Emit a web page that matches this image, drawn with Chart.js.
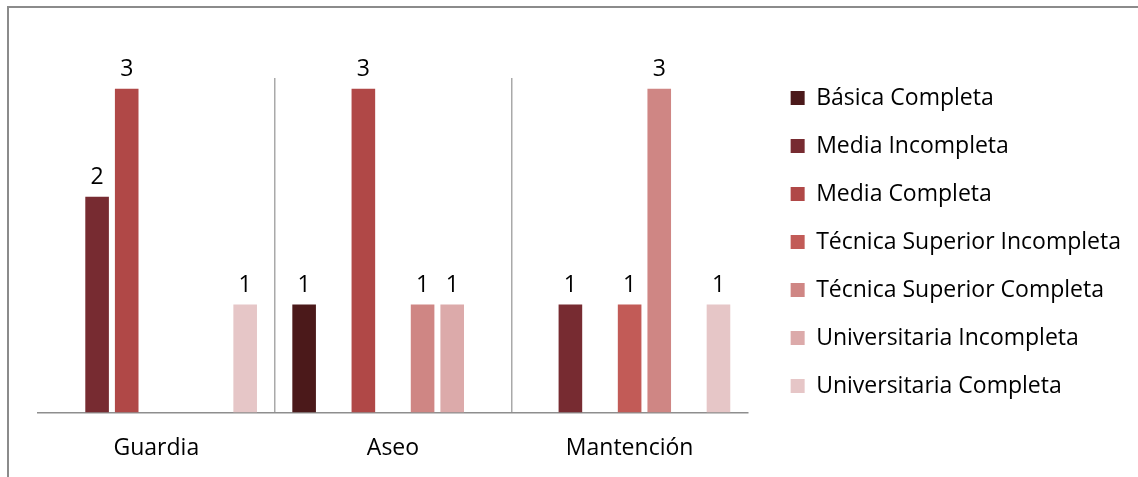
<!DOCTYPE html>
<html>
<head>
<meta charset="utf-8">
<script src="https://cdn.jsdelivr.net/npm/chart.js@4/dist/chart.umd.min.js"></script>
<style>
  html, body { margin: 0; padding: 0; background: #ffffff; overflow: hidden; }
  #wrap { position: relative; width: 1138px; height: 477px; }
  #c { position: absolute; left: 0; top: 0; }
  #frame {
    position: absolute; left: 7px; top: 6px; width: 1300px; height: 700px;
    border-left: 2px solid #8b8b8b; border-top: 2px solid #8b8b8b;
    pointer-events: none; box-sizing: border-box;
  }
</style>
</head>
<body>
<div id="wrap">
  <canvas id="c" width="1138" height="477"></canvas>
  <div id="frame"></div>
</div>
<script>
// Job categories on the x axis
const categories = ['Guardia', 'Aseo', 'Mantención'];

// Education levels (one series each), counts per category; null = no staff
const basicaCompleta        = [null, 1, null];
const mediaIncompleta       = [2, null, 1];
const mediaCompleta         = [3, 3, null];
const tecnicaSupIncompleta  = [null, null, 1];
const tecnicaSupCompleta    = [null, 1, 3];
const universitariaIncomp   = [null, 1, null];
const universitariaCompleta = [1, null, 1];

const seriesNames = [
  'Básica Completa',
  'Media Incompleta',
  'Media Completa',
  'Técnica Superior Incompleta',
  'Técnica Superior Completa',
  'Universitaria Incompleta',
  'Universitaria Completa'
];
const seriesValues = [
  basicaCompleta, mediaIncompleta, mediaCompleta, tecnicaSupIncompleta,
  tecnicaSupCompleta, universitariaIncomp, universitariaCompleta
];
const seriesColors = ['#4b191a', '#772b31', '#b04847', '#c25b57', '#cf8684', '#dcaaaa', '#e6c6c7'];

const FONT = "'Open Sans', 'Noto Sans', sans-serif";
const FONT_SIZE = 23;
const LEGEND_BOX = 14;
const LEGEND_PAD = 25;
const LEGEND_LEFT = 765;   // where the legend column begins
const CANVAS_W = 1138;

// Legend width from its longest label; right padding puts it at LEGEND_LEFT
const canvas = document.getElementById('c');
const mctx = canvas.getContext('2d');
mctx.font = FONT_SIZE + 'px ' + FONT;
const longest = Math.max(...seriesNames.map(n => mctx.measureText(n).width));
const legendWidth = Math.ceil(LEGEND_PAD + LEGEND_BOX + FONT_SIZE / 2 + longest + 10);
const padRight = Math.max(0, CANVAS_W - LEGEND_LEFT - legendWidth);

// Writes each bar's value just above it
const valueLabels = {
  id: 'valueLabels',
  afterDatasetsDraw(chart) {
    const ctx = chart.ctx;
    ctx.save();
    ctx.font = FONT_SIZE + 'px ' + FONT;
    ctx.fillStyle = '#000000';
    ctx.textAlign = 'center';
    ctx.textBaseline = 'alphabetic';
    chart.data.datasets.forEach((ds, di) => {
      const meta = chart.getDatasetMeta(di);
      meta.data.forEach((bar, i) => {
        const v = ds.data[i];
        if (v === null || v === undefined) return;
        ctx.fillText(String(v), bar.x, bar.y - 13);
      });
    });
    ctx.restore();
  }
};

new Chart(canvas, {
  type: 'bar',
  data: {
    labels: categories,
    datasets: seriesNames.map((name, k) => ({
      label: name,
      data: seriesValues[k],
      backgroundColor: seriesColors[k],
      borderWidth: 0,
      barPercentage: 0.797,
      categoryPercentage: 0.876
    }))
  },
  options: {
    responsive: false,
    animation: false,
    layout: { padding: { top: 7, left: 38, right: padRight, bottom: 0 } },
    plugins: {
      tooltip: { enabled: false },
      legend: {
        position: 'right',
        align: 'center',
        maxWidth: legendWidth,
        labels: {
          boxWidth: LEGEND_BOX,
          boxHeight: LEGEND_BOX,
          padding: LEGEND_PAD,
          color: '#000000',
          font: { family: FONT, size: FONT_SIZE }
        }
      }
    },
    scales: {
      x: {
        position: 'bottom',
        grid: {
          display: true,
          drawOnChartArea: true,
          drawTicks: false,
          offset: true,
          lineWidth: 1.5,
          color: (c) => (c.index === 1 || c.index === 2) ? '#a9a9a9' : 'rgba(0,0,0,0)'
        },
        border: { display: true, color: '#8e8e8e', width: 1.5 },
        ticks: {
          padding: 22,
          color: '#000000',
          font: { family: FONT, size: FONT_SIZE }
        },
        afterFit: (s) => { s.height = 64.5; }
      },
      x2: {
        type: 'category',
        position: 'top',
        grid: { display: false },
        border: { display: false },
        ticks: { display: false },
        afterFit: (s) => { s.height = 71; }
      },
      y: {
        position: 'right',
        min: 0,
        max: 3.1,
        grid: { display: false },
        border: { display: false },
        ticks: { display: false },
        afterFit: (s) => { s.width = 17.7; }
      }
    }
  },
  plugins: [valueLabels]
});
</script>
</body>
</html>
